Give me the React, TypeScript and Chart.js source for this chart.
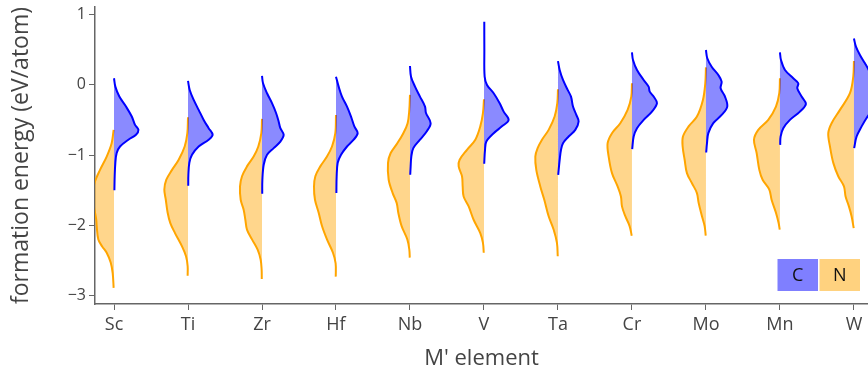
import React, { useEffect, useRef } from 'react';
import { Chart, registerables } from 'chart.js';

Chart.register(...registerables);

const categories = ['Sc', 'Ti', 'Zr', 'Hf', 'Nb', 'V', 'Ta', 'Cr', 'Mo', 'Mn', 'W'];
const yTicks = [-3, -2, -1, 0, 1];
const legendLabels = ['C', 'N'];

// Each violin half: [formation energy (eV/atom), half-width of density in category units]
const C_Sc = [[0.095, 0], [-0.024, 0.018], [-0.166, 0.072], [-0.308, 0.162], [-0.45, 0.24], [-0.569, 0.284], [-0.64, 0.33], [-0.71, 0.297], [-0.78, 0.194], [-0.877, 0.081], [-0.97, 0.036], [-1.11, 0.018], [-1.3, 0.009], [-1.5, 0.005]];
const N_Sc = [[-0.64, 0.005], [-0.83, 0.032], [-1.02, 0.099], [-1.21, 0.189], [-1.374, 0.257], [-1.5, 0.28], [-1.65, 0.285], [-1.8, 0.26], [-1.92, 0.24], [-2.01, 0.234], [-2.2, 0.212], [-2.3, 0.16], [-2.39, 0.099], [-2.53, 0.045], [-2.68, 0.018], [-2.89, 0.005]];
const C_Ti = [[0.057, 0], [-0.071, 0.023], [-0.213, 0.077], [-0.355, 0.144], [-0.498, 0.212], [-0.616, 0.279], [-0.711, 0.333], [-0.78, 0.279], [-0.877, 0.144], [-0.995, 0.054], [-1.11, 0.018], [-1.28, 0.005], [-1.436, 0.003]];
const N_Ti = [[-0.46, 0], [-0.687, 0.009], [-0.877, 0.045], [-1.066, 0.126], [-1.21, 0.216], [-1.35, 0.293], [-1.49, 0.32], [-1.635, 0.3], [-1.82, 0.275], [-1.967, 0.239], [-2.11, 0.176], [-2.3, 0.081], [-2.44, 0.027], [-2.58, 0.005], [-2.716, 0.005]];
const C_Zr = [[0.128, 0], [0.024, 0.014], [-0.118, 0.068], [-0.26, 0.135], [-0.4, 0.19], [-0.52, 0.225], [-0.616, 0.248], [-0.711, 0.293], [-0.806, 0.248], [-0.9, 0.158], [-0.995, 0.068], [-1.137, 0.023], [-1.35, 0.005], [-1.55, 0.003]];
const N_Zr = [[-0.483, 0], [-0.687, 0.009], [-0.877, 0.05], [-1.02, 0.113], [-1.16, 0.203], [-1.3, 0.27], [-1.445, 0.297], [-1.635, 0.288], [-1.777, 0.248], [-1.92, 0.225], [-2.06, 0.203], [-2.2, 0.135], [-2.346, 0.059], [-2.49, 0.018], [-2.63, 0.005], [-2.763, 0.003]];
const C_Hf = [[0.118, 0], [-0.024, 0.036], [-0.166, 0.081], [-0.308, 0.149], [-0.45, 0.203], [-0.59, 0.248], [-0.687, 0.293], [-0.78, 0.239], [-0.877, 0.149], [-0.995, 0.068], [-1.11, 0.023], [-1.3, 0.009], [-1.54, 0.005]];
const N_Hf = [[-0.427, 0], [-0.687, 0.009], [-0.877, 0.054], [-1.02, 0.122], [-1.16, 0.212], [-1.3, 0.279], [-1.445, 0.297], [-1.635, 0.284], [-1.82, 0.234], [-2.01, 0.189], [-2.2, 0.122], [-2.39, 0.041], [-2.54, 0.005], [-2.73, 0.003]];
const C_Nb = [[0.27, 0], [0.118, 0.014], [-0.024, 0.068], [-0.166, 0.135], [-0.308, 0.203], [-0.4, 0.216], [-0.545, 0.279], [-0.663, 0.225], [-0.78, 0.135], [-0.9, 0.045], [-1.02, 0.018], [-1.16, 0.009], [-1.28, 0.003]];
const N_Nb = [[-0.142, 0], [-0.355, 0.009], [-0.545, 0.032], [-0.687, 0.09], [-0.83, 0.171], [-0.97, 0.261], [-1.11, 0.297], [-1.35, 0.288], [-1.54, 0.234], [-1.68, 0.18], [-1.82, 0.158], [-2.01, 0.113], [-2.2, 0.036], [-2.346, 0.009], [-2.46, 0.003]];
const C_V = [[0.9, 0.004], [0.498, 0.005], [0.118, 0.009], [0, 0.041], [-0.118, 0.131], [-0.26, 0.212], [-0.38, 0.266], [-0.498, 0.333], [-0.59, 0.243], [-0.687, 0.131], [-0.806, 0.032], [-0.924, 0.014], [-1.123, 0.003]];
const N_V = [[-0.204, 0], [-0.4, 0.014], [-0.59, 0.05], [-0.78, 0.117], [-0.924, 0.23], [-1.066, 0.329], [-1.16, 0.342], [-1.3, 0.297], [-1.445, 0.288], [-1.588, 0.275], [-1.73, 0.207], [-1.92, 0.14], [-2.11, 0.05], [-2.25, 0.014], [-2.39, 0.003]];
const C_Ta = [[0.34, 0], [0.213, 0.023], [0.071, 0.068], [-0.071, 0.131], [-0.166, 0.176], [-0.308, 0.203], [-0.427, 0.248], [-0.52, 0.279], [-0.64, 0.234], [-0.735, 0.144], [-0.83, 0.068], [-0.924, 0.041], [-1.066, 0.023], [-1.28, 0.003]];
const N_Ta = [[-0.062, 0], [-0.26, 0.009], [-0.45, 0.045], [-0.64, 0.126], [-0.78, 0.216], [-0.9, 0.275], [-1.02, 0.306], [-1.21, 0.293], [-1.445, 0.239], [-1.635, 0.185], [-1.87, 0.126], [-2.06, 0.059], [-2.25, 0.014], [-2.44, 0.003]];
const C_Cr = [[0.464, 0], [0.355, 0.014], [0.213, 0.068], [0.071, 0.158], [-0.024, 0.225], [-0.095, 0.24], [-0.166, 0.293], [-0.26, 0.338], [-0.38, 0.27], [-0.498, 0.158], [-0.616, 0.068], [-0.735, 0.023], [-0.915, 0.003]];
const N_Cr = [[0.024, 0], [-0.166, 0.009], [-0.355, 0.059], [-0.545, 0.158], [-0.687, 0.27], [-0.83, 0.329], [-1.02, 0.315], [-1.256, 0.27], [-1.445, 0.194], [-1.588, 0.149], [-1.73, 0.135], [-1.87, 0.09], [-2.01, 0.032], [-2.147, 0.003]];
const C_Mo = [[0.498, 0], [0.38, 0.018], [0.26, 0.077], [0.142, 0.167], [0.047, 0.212], [-0.047, 0.198], [-0.166, 0.257], [-0.308, 0.288], [-0.427, 0.212], [-0.545, 0.099], [-0.687, 0.032], [-0.83, 0.014], [-0.962, 0.003]];
const N_Mo = [[0.25, 0], [0.024, 0.009], [-0.213, 0.041], [-0.45, 0.122], [-0.59, 0.234], [-0.735, 0.311], [-0.877, 0.315], [-1.066, 0.288], [-1.256, 0.257], [-1.4, 0.189], [-1.54, 0.122], [-1.68, 0.099], [-1.87, 0.054], [-2.01, 0.018], [-2.147, 0.003]];
const C_Mn = [[0.464, 0], [0.355, 0.014], [0.213, 0.068], [0.095, 0.18], [0.024, 0.248], [-0.047, 0.234], [-0.166, 0.293], [-0.27, 0.351], [-0.38, 0.27], [-0.498, 0.135], [-0.616, 0.045], [-0.735, 0.009], [-0.853, 0.003]];
const N_Mn = [[0.095, 0], [-0.118, 0.009], [-0.308, 0.054], [-0.498, 0.158], [-0.64, 0.293], [-0.78, 0.351], [-0.97, 0.315], [-1.21, 0.279], [-1.35, 0.234], [-1.49, 0.144], [-1.635, 0.113], [-1.82, 0.054], [-1.967, 0.018], [-2.06, 0.003]];
const C_W = [[0.66, 0], [0.545, 0.027], [0.427, 0.081], [0.308, 0.149], [0.213, 0.2], [0.071, 0.26], [-0.07, 0.3], [-0.213, 0.32], [-0.355, 0.25], [-0.47, 0.171], [-0.59, 0.104], [-0.735, 0.036], [-0.9, 0.003]];
const N_W = [[0.34, 0], [0.118, 0.009], [-0.118, 0.054], [-0.355, 0.189], [-0.545, 0.302], [-0.687, 0.347], [-0.877, 0.324], [-1.11, 0.279], [-1.3, 0.212], [-1.445, 0.135], [-1.588, 0.113], [-1.73, 0.068], [-1.87, 0.032], [-2.04, 0.003]];

const carbides = [C_Sc, C_Ti, C_Zr, C_Hf, C_Nb, C_V, C_Ta, C_Cr, C_Mo, C_Mn, C_W];
const nitrides = [N_Sc, N_Ti, N_Zr, N_Hf, N_Nb, N_V, N_Ta, N_Cr, N_Mo, N_Mn, N_W];

const FONT = "'Open Sans', 'DejaVu Sans', sans-serif";
const TEXT = '#444';
const AXIS = '#666';
const C_LINE = '#0000ff';
const C_FILL = 'rgba(0,0,255,0.46)';
const N_LINE = '#ffa500';
const N_FILL = 'rgba(255,165,0,0.45)';
const C_BOX = 'rgba(0,0,255,0.5)';
const N_BOX = 'rgba(255,165,0,0.5)';

const boxLegend = {
  id: 'boxLegend',
  afterDraw(chart: any) {
    const { ctx, chartArea } = chart;
    const w = 40.5;
    const h = 32;
    const gap = 1.5;
    const bottom = chartArea.bottom - 13;
    const right = chartArea.right - 8;
    const colors = [C_BOX, N_BOX];
    ctx.save();
    legendLabels.forEach((lab, k) => {
      const x = right - (legendLabels.length - k) * w - (legendLabels.length - 1 - k) * gap;
      ctx.fillStyle = colors[k];
      ctx.fillRect(x, bottom - h, w, h);
      ctx.fillStyle = '#111';
      ctx.font = `18px ${FONT}`;
      ctx.textAlign = 'center';
      ctx.textBaseline = 'middle';
      ctx.fillText(lab, x + w / 2, bottom - h / 2 + 1);
    });
    ctx.restore();
  },
};

export default function App() {
  const ref = useRef<HTMLCanvasElement | null>(null);

  useEffect(() => {
    if (!ref.current) return;
    const datasets: any[] = [];
    categories.forEach((cat, i) => {
      datasets.push({
        label: `${cat} C`,
        data: carbides[i].map(([e, w]) => ({ x: i + w, y: e })),
        borderColor: C_LINE,
        backgroundColor: C_FILL,
        borderWidth: 2,
        pointRadius: 0,
        tension: 0.35,
        fill: { value: i },
      });
      datasets.push({
        label: `${cat} N`,
        data: nitrides[i].map(([e, w]) => ({ x: i - w, y: e })),
        borderColor: N_LINE,
        backgroundColor: N_FILL,
        borderWidth: 2,
        pointRadius: 0,
        tension: 0.35,
        fill: { value: i },
      });
    });

    const chart = new Chart(ref.current, {
      type: 'line',
      data: { datasets },
      plugins: [boxLegend],
      options: {
        responsive: false,
        animation: false,
        events: [],
        indexAxis: 'y',
        layout: { padding: { top: 7, left: 0, right: 0, bottom: 0 } },
        plugins: {
          legend: { display: false },
          tooltip: { enabled: false },
        },
        scales: {
          x: {
            type: 'linear',
            position: 'bottom',
            min: -0.257,
            max: 10.19,
            afterBuildTicks: (s: any) => {
              s.ticks = categories.map((_, i) => ({ value: i }));
            },
            afterFit: (s: any) => {
              s.height = 69;
              s.paddingLeft = 0;
              s.paddingRight = 0;
            },
            ticks: {
              autoSkip: false,
              maxRotation: 0,
              padding: 4,
              color: TEXT,
              font: { family: FONT, size: 18 },
              callback: (v: any) => categories[Math.round(Number(v))] ?? '',
            },
            grid: { drawOnChartArea: false, drawTicks: true, tickLength: 6, color: AXIS, lineWidth: 1 },
            border: { display: true, color: AXIS, width: 1.5 },
            title: {
              display: true,
              text: "M' element",
              color: TEXT,
              font: { family: FONT, size: 22 },
              padding: { top: 0, bottom: 1 },
            },
          },
          y: {
            type: 'linear',
            position: 'left',
            min: -3.12,
            max: 1.11,
            afterBuildTicks: (s: any) => {
              s.ticks = yTicks.map((v) => ({ value: v }));
            },
            afterFit: (s: any) => {
              s.width = 95;
              s.paddingTop = 0;
              s.paddingBottom = 0;
            },
            ticks: {
              padding: 3,
              color: TEXT,
              font: { family: FONT, size: 16 },
              callback: (v: any) => (Number(v) < 0 ? '\u2212' + Math.abs(Number(v)) : String(v)),
            },
            grid: { drawOnChartArea: false, drawTicks: true, tickLength: 6, color: AXIS, lineWidth: 1 },
            border: { display: true, color: AXIS, width: 1.5 },
            title: {
              display: true,
              text: 'formation energy (eV/atom)',
              color: TEXT,
              font: { family: FONT, size: 23 },
              padding: { top: 8, bottom: 0 },
            },
          },
        },
      },
    } as any);
    return () => chart.destroy();
  }, []);

  return (
    <div style={{ position: 'fixed', left: 0, top: 0, width: 868, height: 373, background: '#fff' }}>
      <canvas ref={ref} width={868} height={373} style={{ display: 'block' }} />
    </div>
  );
}
